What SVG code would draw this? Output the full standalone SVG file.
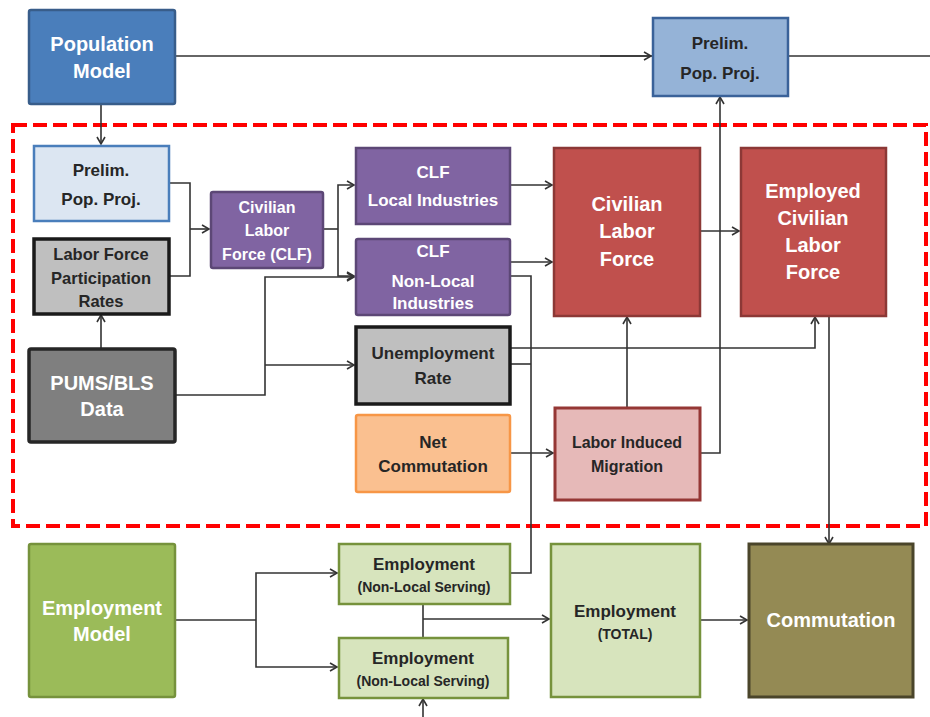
<svg xmlns="http://www.w3.org/2000/svg" width="930" height="717" viewBox="0 0 930 717">
<style>
text{font-family:"Liberation Sans",Arial,sans-serif;font-weight:bold;text-anchor:middle}
.w{fill:#ffffff}
.d{fill:#262626}
.big{font-size:20px}
.med{font-size:17px}
.sm{font-size:14px}
.c{fill:none;stroke:#333333;stroke-width:1.6}
.a{marker-end:url(#ar)}
</style>
<defs>
<marker id="ar" markerWidth="10" markerHeight="10" refX="8" refY="5" orient="auto" markerUnits="userSpaceOnUse">
<path d="M1,1 L8,5 L1,9" fill="none" stroke="#333333" stroke-width="1.6"/>
</marker>
</defs>
<rect width="930" height="717" fill="#ffffff"/>
<rect x="13" y="125" width="913" height="401" fill="none" stroke="#ff0000" stroke-width="4" stroke-dasharray="14,6"/>
<g id="connectors">
<path class="c" d="M175,56 H930"/>
<path class="c a" d="M600,56 H651"/>
<path class="c a" d="M101,104 V144"/>
<path class="c" d="M169,183 H190 V276 H169"/>
<path class="c a" d="M190,229 H209"/>
<path class="c" d="M323,229 H338"/>
<path class="c a" d="M338,229 V185 H354"/>
<path class="c a" d="M338,229 V276 H354"/>
<path class="c a" d="M101,348 V315"/>
<path class="c a" d="M175,395 H265 V277 H354"/>
<path class="c a" d="M265,365 H354"/>
<path class="c a" d="M510,185 H552"/>
<path class="c a" d="M510,262 H552"/>
<path class="c" d="M510,276 H531 V573 H510"/>
<path class="c" d="M510,364 H531"/>
<path class="c a" d="M510,348 H815 V317"/>
<path class="c a" d="M510,453 H553"/>
<path class="c a" d="M627,407 V317"/>
<path class="c a" d="M700,453 H720 V97"/>
<path class="c a" d="M700,231 H739"/>
<path class="c a" d="M829,316 V544"/>
<path class="c" d="M175,620 H256"/>
<path class="c a" d="M256,620 V573 H337"/>
<path class="c a" d="M256,620 V667 H337"/>
<path class="c" d="M423,604 V637"/>
<path class="c a" d="M423,619 H549"/>
<path class="c a" d="M423,717 V699"/>
<path class="c a" d="M700,620 H747"/>
</g>
<g id="population-model">
<rect x="29" y="10" width="146" height="94" rx="2" fill="#4a7ebb" stroke="#385d8a" stroke-width="2.5"/>
<text class="w big" x="102" y="51">Population</text>
<text class="w big" x="102" y="78">Model</text>
</g>
<g id="prelim-top">
<rect x="653" y="18" width="135" height="78" fill="#95b3d7" stroke="#3a6299" stroke-width="2.5"/>
<text class="d med" x="720" y="49">Prelim.</text>
<text class="d med" x="720" y="79">Pop. Proj.</text>
</g>
<g id="prelim-left">
<rect x="34" y="146" width="135" height="75" fill="#dce6f2" stroke="#4a7ebb" stroke-width="2.5"/>
<text class="d med" x="101" y="176">Prelim.</text>
<text class="d med" x="101" y="205">Pop. Proj.</text>
</g>
<g id="labor-force-rates">
<rect x="34" y="239" width="135" height="75" fill="#bfbfbf" stroke="#1a1a1a" stroke-width="3.5"/>
<text class="d" font-size="16.5" x="101" y="260">Labor Force</text>
<text class="d" font-size="16.5" x="101" y="284">Participation</text>
<text class="d" font-size="16.5" x="101" y="307">Rates</text>
</g>
<g id="pums">
<rect x="29" y="349" width="146" height="93" rx="2" fill="#7f7f7f" stroke="#262626" stroke-width="3.5"/>
<text class="w big" x="102" y="390">PUMS/BLS</text>
<text class="w big" x="102" y="416">Data</text>
</g>
<g id="clf">
<rect x="211" y="192" width="112" height="76" rx="2" fill="#8064a2" stroke="#5c4776" stroke-width="2.5"/>
<text class="w" font-size="16" x="267" y="213">Civilian</text>
<text class="w" font-size="16" x="267" y="236">Labor</text>
<text class="w" font-size="16" x="267" y="260">Force (CLF)</text>
</g>
<g id="clf-local">
<rect x="356" y="148" width="154" height="76" fill="#8064a2" stroke="#5c4776" stroke-width="2.5"/>
<text class="w med" x="433" y="178">CLF</text>
<text class="w med" x="433" y="206">Local Industries</text>
</g>
<g id="clf-nonlocal">
<rect x="356" y="239" width="154" height="76" rx="2" fill="#8064a2" stroke="#5c4776" stroke-width="2.5"/>
<text class="w med" x="433" y="257">CLF</text>
<text class="w med" x="433" y="287">Non-Local</text>
<text class="w med" x="433" y="309">Industries</text>
</g>
<g id="civilian-labor-force">
<rect x="554" y="148" width="146" height="168" fill="#c0504d" stroke="#8c3836" stroke-width="2.5"/>
<text class="w big" x="627" y="211">Civilian</text>
<text class="w big" x="627" y="238">Labor</text>
<text class="w big" x="627" y="266">Force</text>
</g>
<g id="employed-clf">
<rect x="741" y="148" width="145" height="168" fill="#c0504d" stroke="#8c3836" stroke-width="2.5"/>
<text class="w big" x="813" y="198">Employed</text>
<text class="w big" x="813" y="225">Civilian</text>
<text class="w big" x="813" y="252">Labor</text>
<text class="w big" x="813" y="279">Force</text>
</g>
<g id="unemployment-rate">
<rect x="356" y="327" width="154" height="77" fill="#bfbfbf" stroke="#1a1a1a" stroke-width="3.5"/>
<text class="d med" x="433" y="359">Unemployment</text>
<text class="d med" x="433" y="384">Rate</text>
</g>
<g id="net-commutation">
<rect x="356" y="415" width="154" height="77" rx="2" fill="#fac090" stroke="#f79646" stroke-width="2.5"/>
<text class="d med" x="433" y="448">Net</text>
<text class="d med" x="433" y="472">Commutation</text>
</g>
<g id="labor-induced-migration">
<rect x="555" y="408" width="145" height="92" fill="#e6b9b8" stroke="#953735" stroke-width="3"/>
<text class="d" font-size="16" x="627" y="448">Labor Induced</text>
<text class="d" font-size="16" x="627" y="472">Migration</text>
</g>
<g id="employment-model">
<rect x="29" y="544" width="146" height="153" rx="2" fill="#9bbb59" stroke="#76923c" stroke-width="2.5"/>
<text class="w big" x="102" y="615">Employment</text>
<text class="w big" x="102" y="641">Model</text>
</g>
<g id="employment-top">
<rect x="339" y="544" width="171" height="60" fill="#d7e4bd" stroke="#76923c" stroke-width="2.5"/>
<text class="d med" x="424" y="570">Employment</text>
<text class="d sm" x="424" y="592">(Non-Local Serving)</text>
</g>
<g id="employment-bottom">
<rect x="339" y="638" width="169" height="60" fill="#d7e4bd" stroke="#76923c" stroke-width="2.5"/>
<text class="d med" x="423" y="664">Employment</text>
<text class="d sm" x="423" y="686">(Non-Local Serving)</text>
</g>
<g id="employment-total">
<rect x="551" y="544" width="149" height="153" fill="#d7e4bd" stroke="#76923c" stroke-width="2.5"/>
<text class="d med" x="625" y="617">Employment</text>
<text class="d sm" x="625" y="639">(TOTAL)</text>
</g>
<g id="commutation">
<rect x="749" y="544" width="164" height="153" fill="#948a54" stroke="#4a452a" stroke-width="3"/>
<text class="w big" x="831" y="627">Commutation</text>
</g>
</svg>
